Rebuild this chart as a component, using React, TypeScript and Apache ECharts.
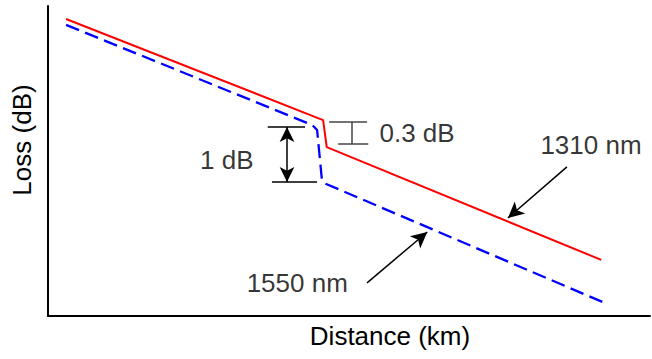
import React, { useEffect, useRef } from "react";
import * as echarts from "echarts";

// Fiber loss traces (arbitrary units: distance 0..100, loss 0..100)
const distance1310 = [3.0, 45.7, 46.3, 91.9];
const loss1310 = [95.8, 63.2, 54.5, 18.1];
const distance1550 = [3.0, 43.9, 44.7, 45.5, 46.2, 92.5];
const loss1550 = [93.9, 61.6, 60.0, 43.9, 42.6, 4.2];

// Annotation geometry in data units
// 1 dB bracket: top bar, bottom bar, double arrow
const bar1dBTop = [[36.5, 61.0], [42.7, 61.0]];
const bar1dBBottom = [[37.2, 43.2], [44.7, 43.2]];
const arrow1dB = [[39.7, 61.0], [39.7, 43.2]];
// 0.3 dB I-beam
const beam03Top = [[46.7, 62.6], [53.0, 62.6]];
const beam03Bottom = [[48.2, 55.5], [53.2, 55.5]];
const beam03Stem = [[50.5, 62.6], [50.5, 55.5]];
// pointer arrows (from label to line)
const pointer1310 = [[86.2, 48.1], [76.4, 31.6]];
const pointer1550 = [[53.0, 10.7], [63.0, 27.1]];

// Text labels
const labelTexts = ["1 dB", "0.3 dB", "1310 nm", "1550 nm"];
const labelX = [29.7, 61.3, 90.2, 41.4];
const labelY = [50.3, 59.0, 55.2, 10.6];

const xAxisTitle = "Distance (km)";
const yAxisTitle = "Loss (dB)";

const FONT = "'Liberation Sans', Arial, sans-serif";
const FS = 26;

export default function App() {
  const ref = useRef<HTMLDivElement>(null);
  useEffect(() => {
    if (!ref.current) return;
    const chart = echarts.init(ref.current, undefined, { renderer: "svg" });
    const seg = (pts: number[][]) => [{ coord: pts[0] }, { coord: pts[1] }];
    const mlBase = {
      silent: true,
      label: { show: false },
      emphasis: { disabled: true },
      animation: false,
    };
    const axisCommon = {
      type: "value",
      min: 0,
      max: 100,
      axisLine: { show: true, lineStyle: { color: "#000", width: 2 } },
      axisTick: { show: false },
      axisLabel: { show: false },
      splitLine: { show: false },
    };
    chart.setOption({
      animation: false,
      grid: { left: 48, right: 2, top: 6, bottom: 43 },
      xAxis: { ...axisCommon },
      yAxis: { ...axisCommon },
      graphic: [
        {
          type: "text",
          x: 390,
          y: 336,
          silent: true,
          style: {
            text: xAxisTitle,
            font: `${FS}px ${FONT}`,
            fill: "#000",
            align: "center",
            verticalAlign: "middle",
          },
        },
        {
          type: "text",
          x: 22,
          y: 140,
          rotation: Math.PI / 2,
          silent: true,
          style: {
            text: yAxisTitle,
            font: `${FS}px ${FONT}`,
            fill: "#000",
            align: "center",
            verticalAlign: "middle",
          },
        },
      ],
      series: [
        {
          type: "line",
          name: "1310 nm",
          data: distance1310.map((x, i) => [x, loss1310[i]]),
          showSymbol: false,
          symbol: "none",
          lineStyle: { color: "#ff0000", width: 2 },
          silent: true,
        },
        {
          type: "line",
          name: "1550 nm",
          data: distance1550.map((x, i) => [x, loss1550[i]]),
          showSymbol: false,
          symbol: "none",
          lineStyle: { color: "#0000ff", width: 2.3, type: [14, 6.5] },
          silent: true,
        },
        {
          type: "line",
          data: [],
          markLine: {
            ...mlBase,
            symbol: ["none", "none"],
            lineStyle: { color: "#000", width: 1.5, type: "solid" },
            data: [seg(bar1dBTop), seg(bar1dBBottom)],
          },
        },
        {
          type: "line",
          data: [],
          markLine: {
            ...mlBase,
            symbol: ["none", "none"],
            lineStyle: { color: "#444", width: 1.5, type: "solid" },
            data: [seg(beam03Top), seg(beam03Bottom), seg(beam03Stem)],
          },
        },
        {
          type: "line",
          data: [],
          markLine: {
            ...mlBase,
            symbol: ["arrow", "arrow"],
            symbolSize: [11, 15],
            lineStyle: { color: "#000", width: 1.5, type: "solid" },
            data: [seg(arrow1dB)],
          },
        },
        {
          type: "line",
          data: [],
          markLine: {
            ...mlBase,
            symbol: ["none", "arrow"],
            symbolSize: [12, 16],
            lineStyle: { color: "#000", width: 1.5, type: "solid" },
            data: [seg(pointer1310), seg(pointer1550)],
          },
        },
        {
          type: "scatter",
          symbolSize: 0,
          silent: true,
          data: labelTexts.map((t, i) => ({ value: [labelX[i], labelY[i]], name: t })),
          label: {
            show: true,
            position: "inside",
            formatter: (p: any) => p.name,
            fontFamily: FONT,
            fontSize: FS,
            color: "#000",
          },
        },
      ],
    });
    return () => chart.dispose();
  }, []);
  return <div ref={ref} style={{ width: 652, height: 359, position: "absolute", left: 0, top: 0 }} />;
}
